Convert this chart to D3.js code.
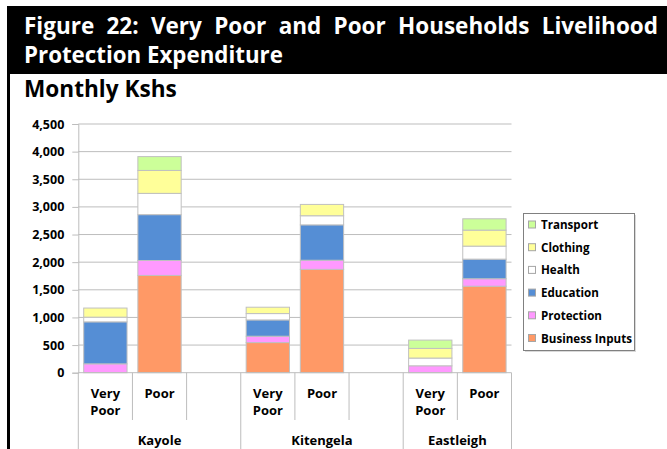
<!DOCTYPE html>
<html>
<head>
<meta charset="utf-8">
<script src="https://cdnjs.cloudflare.com/ajax/libs/d3/7.8.5/d3.min.js"></script>
<style>
    body { margin: 0; background: #ffffff; }
    svg text { font-family: "Open Sans", sans-serif; font-weight: bold; }
</style>
</head>
<body>
<div id="chart"></div>
<script>
(function () {

    // data (monthly Kshs)
    var groups = ["Kayole", "Kitengela", "Eastleigh"];
    var wealth_groups = ["Very Poor", "Poor"];
    // one slot per bar, plus an empty slot between districts
    var slots = ["Kayole|Very Poor", "Kayole|Poor", "Kayole|", "Kitengela|Very Poor", "Kitengela|Poor", "Kitengela|", "Eastleigh|Very Poor", "Eastleigh|Poor"];
    var bars = ["Kayole|Very Poor", "Kayole|Poor", "Kitengela|Very Poor", "Kitengela|Poor", "Eastleigh|Very Poor", "Eastleigh|Poor"];

    var series_names = ["Business Inputs", "Protection", "Education", "Health", "Clothing", "Transport"];
    var series_colors = ["#ff9966", "#ff99ff", "#558ed5", "#ffffff", "#ffff99", "#ccff99"];
    var business_inputs = [0, 1760, 545, 1870, 0, 1565];
    var protection = [160, 270, 115, 165, 125, 135];
    var education = [760, 830, 295, 640, 0, 355];
    var health = [85, 385, 115, 165, 140, 235];
    var clothing = [165, 415, 115, 205, 175, 290];
    var transport = [0, 250, 0, 0, 150, 205];
    var y_ticks = [0, 500, 1000, 1500, 2000, 2500, 3000, 3500, 4000, 4500];

    var title_line_1 = "Figure 22: Very Poor and Poor Households Livelihood";
    var title_line_2 = "Protection Expenditure";
    var subtitle = "Monthly Kshs";

    var width = 667, height = 449;
    var plot_left = 78.3, plot_right = 511.5, plot_top = 124, plot_bottom = 372.7;
    var grid_color = "#bdbdbd";

    var series_values = [business_inputs, protection, education, health, clothing, transport];
    var table = bars.map(function (key, i) {
        var row = { key: key };
        series_names.forEach(function (name, j) { row[name] = series_values[j][i]; });
        return row;
    });
    var stacked = d3.stack().keys(series_names)(table);

    var svg = d3.select("#chart").append("svg")
        .attr("width", width)
        .attr("height", height);

    // title band and left rule
    svg.append("rect").attr("x", 7).attr("y", 6).attr("width", width - 7).attr("height", 68).attr("fill", "#000");
    svg.append("rect").attr("x", 7).attr("y", 6).attr("width", 3).attr("height", height - 6).attr("fill", "#000");

    // first title line is justified across the band
    var words = title_line_1.split(" ");
    var word_nodes = svg.append("g").selectAll("text")
        .data(words)
        .enter()
        .append("text")
        .attr("y", 34)
        .style("font-size", "22.5px")
        .attr("fill", "#fff")
        .text(function (d) { return d; });
    var widths = [];
    word_nodes.each(function () { widths.push(this.getComputedTextLength()); });
    var line_start = 24, line_end = 658;
    var gap = (line_end - line_start - d3.sum(widths)) / (words.length - 1);
    var cursor = line_start;
    word_nodes.attr("x", function (d, i) {
        var x = cursor;
        cursor += widths[i] + gap;
        return x;
    });

    svg.append("text").attr("x", 24).attr("y", 62.5).style("font-size", "22.3px").attr("fill", "#fff").text(title_line_2);
    svg.append("text").attr("x", 24).attr("y", 97).style("font-size", "22.6px").attr("fill", "#000").text(subtitle);

    var x = d3.scaleBand()
        .domain(slots)
        .range([plot_left, plot_right])
        .paddingInner(0.2)
        .paddingOuter(0.1);
    var y = d3.scaleLinear()
        .domain([0, 4500])
        .range([plot_bottom, plot_top]);

    // gridlines
    svg.append("g").selectAll("line")
        .data(y_ticks.slice(1))
        .enter()
        .append("line")
        .attr("x1", plot_left).attr("x2", plot_right)
        .attr("y1", function (d) { return y(d); })
        .attr("y2", function (d) { return y(d); })
        .attr("stroke", grid_color);

    // y axis
    var y_axis = svg.append("g")
        .attr("transform", "translate(" + plot_left + ",0)")
        .call(d3.axisLeft(y).tickValues(y_ticks).tickFormat(d3.format(",")).tickSizeOuter(0).tickSize(6).tickPadding(8));
    y_axis.select(".domain").attr("stroke", grid_color);
    y_axis.selectAll(".tick line").attr("stroke", grid_color);
    y_axis.selectAll("text").style("font-size", "12.5px").style("font-family", "Open Sans").style("font-weight", "bold").attr("fill", "#000");

    // stacked bars
    svg.append("g").selectAll("g")
        .data(stacked)
        .enter()
        .append("g")
        .attr("fill", function (d, i) { return series_colors[i]; })
        .selectAll("rect")
        .data(function (d) { return d.filter(function (p) { return p[1] > p[0]; }); })
        .enter()
        .append("rect")
        .attr("x", function (d) { return x(d.data.key); })
        .attr("width", x.bandwidth())
        .attr("y", function (d) { return y(d[1]); })
        .attr("height", function (d) { return y(d[0]) - y(d[1]); })
        .attr("stroke", "#c0c0c0")
        .attr("stroke-width", 1);

    // x axis line and category separators
    svg.append("line")
        .attr("x1", plot_left).attr("x2", plot_right)
        .attr("y1", plot_bottom).attr("y2", plot_bottom)
        .attr("stroke", grid_color);
    var step = x.step();
    var boundaries = d3.range(slots.length + 1);
    svg.append("g").selectAll("line")
        .data(boundaries)
        .enter()
        .append("line")
        .attr("x1", function (d) { return plot_left + d * step; })
        .attr("x2", function (d) { return plot_left + d * step; })
        .attr("y1", plot_bottom)
        .attr("y2", function (d) { return (d % 3 === 0 || d === slots.length) ? height : 420; })
        .attr("stroke", grid_color);

    // category labels
    var cat_labels = svg.append("g").selectAll("text")
        .data(bars)
        .enter()
        .append("text")
        .attr("text-anchor", "middle")
        .style("font-size", "13px")
        .attr("fill", "#000");
    cat_labels.each(function (d) {
        var label = d.split("|")[1];
        var cx = x(d) + x.bandwidth() / 2;
        var lines = label === wealth_groups[0] ? ["Very", "Poor"] : [label];
        d3.select(this).selectAll("tspan")
            .data(lines)
            .enter()
            .append("tspan")
            .attr("x", cx)
            .attr("y", function (l, i) { return 398 + i * 17; })
            .text(function (l) { return l; });
    });

    // district labels
    svg.append("g").selectAll("text")
        .data(groups)
        .enter()
        .append("text")
        .attr("text-anchor", "middle")
        .attr("x", function (d, i) {
            var first = plot_left + i * 3 * step;
            var last = Math.min(plot_left + (i + 1) * 3 * step, plot_right);
            return (first + last) / 2;
        })
        .attr("y", 444.5)
        .style("font-size", "13px")
        .attr("fill", "#000")
        .text(function (d) { return d; });

    // legend
    var legend = svg.append("g").attr("transform", "translate(523.5,213.5)");
    legend.append("rect").attr("x", 1.5).attr("y", 1.5).attr("width", 111).attr("height", 137).attr("fill", "#d9d9d9");
    legend.append("rect").attr("width", 111).attr("height", 137).attr("fill", "#fff").attr("stroke", "#808080");
    var legend_items = legend.selectAll("g")
        .data(series_names.slice().reverse())
        .enter()
        .append("g")
        .attr("transform", function (d, i) { return "translate(0," + (11 + i * 22.7) + ")"; });
    legend_items.append("rect")
        .attr("x", 5).attr("y", -3.5).attr("width", 7).attr("height", 7)
        .attr("fill", function (d) { return series_colors[series_names.indexOf(d)]; })
        .attr("stroke", "#a6a6a6");
    legend_items.append("text")
        .attr("x", 17.5).attr("y", 4.5)
        .style("font-size", "11.6px")
        .attr("fill", "#000")
        .text(function (d) { return d; });
})();
</script>
</body>
</html>
